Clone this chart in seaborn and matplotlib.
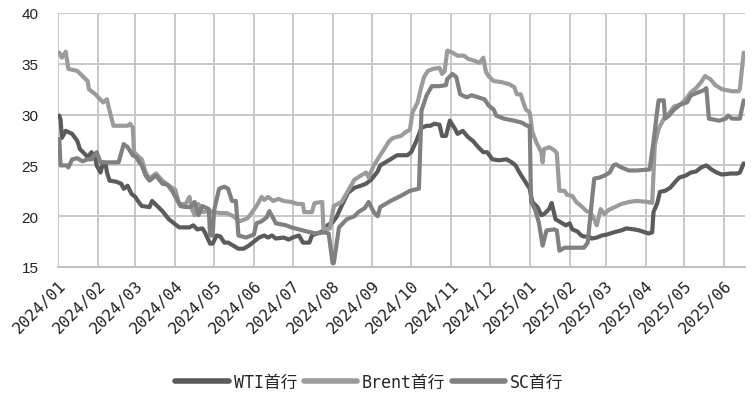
import pandas as pd
import seaborn as sns
import matplotlib
matplotlib.use("Agg")
import matplotlib.pyplot as plt
import matplotlib.dates as mdates

# values (breakpoints of each line)
wti_dates = ["2024-01-02", "2024-01-03", "2024-01-04", "2024-01-07", "2024-01-12", "2024-01-16",
             "2024-01-18", "2024-01-22", "2024-01-24", "2024-01-27", "2024-01-30", "2024-01-31",
             "2024-02-03", "2024-02-05", "2024-02-07", "2024-02-08", "2024-02-10", "2024-02-15",
             "2024-02-19", "2024-02-21", "2024-02-24", "2024-02-27", "2024-03-01", "2024-03-03",
             "2024-03-06", "2024-03-12", "2024-03-14", "2024-03-18", "2024-03-22", "2024-03-27",
             "2024-04-04", "2024-04-12", "2024-04-15", "2024-04-18", "2024-04-22", "2024-04-24",
             "2024-04-28", "2024-04-30", "2024-05-03", "2024-05-06", "2024-05-09", "2024-05-12",
             "2024-05-16", "2024-05-20", "2024-05-24", "2024-05-28", "2024-06-01", "2024-06-05",
             "2024-06-09", "2024-06-12", "2024-06-15", "2024-06-18", "2024-06-24", "2024-06-28",
             "2024-07-01", "2024-07-06", "2024-07-09", "2024-07-14", "2024-07-16", "2024-07-20",
             "2024-07-24", "2024-07-28", "2024-08-01", "2024-08-04", "2024-08-08", "2024-08-13",
             "2024-08-18", "2024-08-23", "2024-08-27", "2024-08-31", "2024-09-05", "2024-09-07",
             "2024-09-15", "2024-09-20", "2024-09-28", "2024-10-01", "2024-10-05", "2024-10-09",
             "2024-10-13", "2024-10-16", "2024-10-19", "2024-10-23", "2024-10-25", "2024-10-28",
             "2024-10-31", "2024-11-04", "2024-11-06", "2024-11-10", "2024-11-14", "2024-11-18",
             "2024-11-22", "2024-11-26", "2024-11-29", "2024-12-03", "2024-12-08", "2024-12-14",
             "2024-12-18", "2024-12-21", "2024-12-24", "2024-12-28", "2025-01-01", "2025-01-03",
             "2025-01-07", "2025-01-10", "2025-01-12", "2025-01-16", "2025-01-18", "2025-01-21",
             "2025-01-25", "2025-01-29", "2025-02-01", "2025-02-03", "2025-02-07", "2025-02-10",
             "2025-02-12", "2025-02-16", "2025-02-18", "2025-02-22", "2025-02-26", "2025-03-02",
             "2025-03-07", "2025-03-13", "2025-03-17", "2025-03-23", "2025-03-27", "2025-04-03",
             "2025-04-06", "2025-04-07", "2025-04-10", "2025-04-12", "2025-04-16", "2025-04-20",
             "2025-04-24", "2025-04-27", "2025-05-02", "2025-05-06", "2025-05-10", "2025-05-14",
             "2025-05-18", "2025-05-22", "2025-05-26", "2025-05-30", "2025-06-06", "2025-06-11",
             "2025-06-13", "2025-06-16"]
wti_vals = [29.9, 29.5, 27.7, 28.4, 28.1, 27.4,
            26.6, 26.1, 25.8, 26.3, 25.6, 25.0,
            24.3, 25.3, 25.1, 24.3, 23.5, 23.4,
            23.2, 22.7, 23.0, 22.2, 21.9, 21.5,
            21.0, 20.9, 21.5, 21.0, 20.5, 19.7,
            18.9, 18.9, 19.1, 18.7, 18.8, 18.4,
            17.3, 17.3, 18.1, 18.0, 17.4, 17.4,
            17.1, 16.8, 16.8, 17.1, 17.5, 17.9,
            18.1, 17.9, 18.1, 17.8, 17.9, 17.7,
            17.9, 18.1, 17.4, 17.4, 18.1, 18.3,
            18.5, 19.1, 19.4, 19.9, 21.0, 22.3,
            22.8, 23.0, 23.2, 23.6, 24.4, 25.0,
            25.6, 26.0, 26.0, 26.3, 27.4, 28.7,
            28.9, 28.9, 29.1, 29.0, 27.9, 27.9,
            29.4, 28.6, 28.1, 28.4, 27.8, 27.4,
            26.8, 26.3, 26.3, 25.6, 25.5, 25.6,
            25.3, 25.0, 24.3, 23.5, 22.7, 21.4,
            20.9, 20.1, 20.2, 20.7, 21.3, 19.7,
            19.4, 19.1, 19.3, 18.7, 18.5, 18.1,
            18.0, 18.0, 17.8, 17.9, 18.1, 18.2,
            18.4, 18.6, 18.8, 18.7, 18.6, 18.3,
            18.4, 20.4, 21.3, 22.4, 22.5, 22.8,
            23.4, 23.8, 24.0, 24.3, 24.4, 24.8,
            25.0, 24.6, 24.3, 24.1, 24.2, 24.2,
            24.3, 25.2]

brent_dates = ["2024-01-02", "2024-01-04", "2024-01-07", "2024-01-09", "2024-01-16", "2024-01-20",
               "2024-01-24", "2024-01-25", "2024-01-30", "2024-02-05", "2024-02-08", "2024-02-09",
               "2024-02-13", "2024-02-24", "2024-02-26", "2024-02-28", "2024-02-29", "2024-03-04",
               "2024-03-06", "2024-03-09", "2024-03-12", "2024-03-17", "2024-03-22", "2024-03-27",
               "2024-04-01", "2024-04-04", "2024-04-09", "2024-04-12", "2024-04-14", "2024-04-16",
               "2024-04-19", "2024-04-22", "2024-04-27", "2024-05-01", "2024-05-06", "2024-05-11",
               "2024-05-16", "2024-05-21", "2024-05-27", "2024-05-29", "2024-06-03", "2024-06-07",
               "2024-06-09", "2024-06-12", "2024-06-16", "2024-06-20", "2024-06-24", "2024-06-30",
               "2024-07-05", "2024-07-09", "2024-07-10", "2024-07-16", "2024-07-18", "2024-07-24",
               "2024-07-25", "2024-07-30", "2024-08-02", "2024-08-08", "2024-08-13", "2024-08-18",
               "2024-08-23", "2024-08-27", "2024-08-29", "2024-09-02", "2024-09-06", "2024-09-10",
               "2024-09-14", "2024-09-17", "2024-09-23", "2024-09-27", "2024-09-30", "2024-10-02",
               "2024-10-06", "2024-10-09", "2024-10-11", "2024-10-14", "2024-10-18", "2024-10-23",
               "2024-10-25", "2024-10-27", "2024-10-29", "2024-11-02", "2024-11-06", "2024-11-11",
               "2024-11-14", "2024-11-19", "2024-11-23", "2024-11-26", "2024-11-28", "2024-11-30",
               "2024-12-04", "2024-12-10", "2024-12-16", "2024-12-20", "2024-12-22", "2024-12-25",
               "2024-12-27", "2024-12-29", "2025-01-01", "2025-01-03", "2025-01-06", "2025-01-10",
               "2025-01-11", "2025-01-12", "2025-01-16", "2025-01-20", "2025-01-22", "2025-01-24",
               "2025-01-28", "2025-01-30", "2025-02-03", "2025-02-06", "2025-02-10", "2025-02-14",
               "2025-02-17", "2025-02-20", "2025-02-22", "2025-02-25", "2025-02-28", "2025-03-03",
               "2025-03-08", "2025-03-13", "2025-03-19", "2025-03-25", "2025-04-03", "2025-04-06",
               "2025-04-07", "2025-04-08", "2025-04-11", "2025-04-15", "2025-04-19", "2025-04-23",
               "2025-04-28", "2025-05-02", "2025-05-06", "2025-05-10", "2025-05-14", "2025-05-17",
               "2025-05-21", "2025-05-25", "2025-05-30", "2025-06-07", "2025-06-12", "2025-06-13",
               "2025-06-16"]
brent_vals = [36.1, 35.6, 36.2, 34.5, 34.3, 33.8,
              33.3, 32.5, 32.0, 31.2, 31.5, 30.9,
              28.9, 28.9, 29.1, 28.7, 26.3, 25.8,
              25.6, 24.3, 23.7, 24.2, 23.5, 23.0,
              22.6, 21.2, 21.2, 21.9, 20.7, 20.1,
              21.2, 20.4, 20.5, 20.4, 20.3, 20.3,
              20.0, 19.5, 19.8, 20.1, 21.0, 21.9,
              21.6, 21.9, 21.5, 21.7, 21.5, 21.4,
              21.2, 21.2, 20.4, 20.4, 21.3, 21.4,
              18.7, 18.8, 21.0, 21.4, 22.5, 23.6,
              24.0, 24.3, 23.8, 25.0, 25.8, 26.6,
              27.4, 27.7, 27.9, 28.3, 28.5, 30.2,
              31.2, 32.8, 33.7, 34.3, 34.5, 34.6,
              34.0, 34.3, 36.3, 36.1, 35.8, 35.8,
              35.5, 35.3, 35.1, 35.6, 34.2, 33.8,
              33.3, 33.2, 33.0, 32.7, 32.0, 32.0,
              31.2, 30.5, 30.2, 28.3, 27.3, 26.3,
              25.3, 26.6, 26.8, 26.5, 26.2, 22.5,
              22.5, 22.1, 22.0, 21.4, 21.0, 20.5,
              20.4, 19.7, 19.1, 20.7, 20.2, 20.6,
              20.9, 21.2, 21.4, 21.5, 21.4, 21.3,
              24.2, 27.0, 28.6, 29.6, 30.1, 30.8,
              31.0, 31.5, 32.2, 32.6, 33.2, 33.8,
              33.5, 32.9, 32.5, 32.3, 32.3, 32.5,
              36.1]

sc_dates = ["2024-01-02", "2024-01-03", "2024-01-08", "2024-01-09", "2024-01-12", "2024-01-16",
            "2024-01-20", "2024-01-24", "2024-01-27", "2024-01-31", "2024-02-03", "2024-02-08",
            "2024-02-13", "2024-02-17", "2024-02-21", "2024-02-24", "2024-02-28", "2024-03-02",
            "2024-03-04", "2024-03-06", "2024-03-09", "2024-03-12", "2024-03-17", "2024-03-22",
            "2024-03-26", "2024-03-30", "2024-04-02", "2024-04-05", "2024-04-09", "2024-04-13",
            "2024-04-16", "2024-04-19", "2024-04-22", "2024-04-27", "2024-04-28", "2024-04-30",
            "2024-05-01", "2024-05-05", "2024-05-09", "2024-05-12", "2024-05-15", "2024-05-18",
            "2024-05-20", "2024-05-26", "2024-05-30", "2024-06-01", "2024-06-03", "2024-06-07",
            "2024-06-11", "2024-06-13", "2024-06-16", "2024-06-18", "2024-06-26", "2024-06-30",
            "2024-07-06", "2024-07-12", "2024-07-19", "2024-07-26", "2024-07-29", "2024-08-01",
            "2024-08-02", "2024-08-06", "2024-08-12", "2024-08-18", "2024-08-21", "2024-08-26",
            "2024-08-29", "2024-09-02", "2024-09-05", "2024-09-07", "2024-09-15", "2024-09-23",
            "2024-09-30", "2024-10-07", "2024-10-09", "2024-10-13", "2024-10-17", "2024-10-23",
            "2024-10-28", "2024-10-29", "2024-11-02", "2024-11-05", "2024-11-08", "2024-11-13",
            "2024-11-17", "2024-11-22", "2024-11-27", "2024-11-30", "2024-12-04", "2024-12-06",
            "2024-12-12", "2024-12-20", "2024-12-26", "2024-12-30", "2025-01-01", "2025-01-02",
            "2025-01-05", "2025-01-08", "2025-01-11", "2025-01-14", "2025-01-20", "2025-01-22",
            "2025-01-24", "2025-01-28", "2025-02-12", "2025-02-15", "2025-02-17", "2025-02-20",
            "2025-02-24", "2025-02-28", "2025-03-04", "2025-03-07", "2025-03-09", "2025-03-13",
            "2025-03-19", "2025-03-25", "2025-04-04", "2025-04-07", "2025-04-10", "2025-04-11",
            "2025-04-15", "2025-04-16", "2025-04-19", "2025-04-23", "2025-04-28", "2025-05-03",
            "2025-05-06", "2025-05-12", "2025-05-16", "2025-05-18", "2025-05-20", "2025-05-28",
            "2025-06-02", "2025-06-04", "2025-06-07", "2025-06-13", "2025-06-16"]
sc_vals = [27.6, 25.0, 25.0, 24.8, 25.6, 25.7,
           25.4, 25.6, 25.6, 26.3, 25.3, 25.3,
           25.3, 25.3, 27.1, 26.8, 26.0, 25.8,
           25.3, 25.0, 24.0, 23.5, 24.0, 23.2,
           23.1, 22.4, 21.7, 21.0, 20.9, 20.9,
           21.4, 20.1, 21.0, 20.7, 18.1, 18.1,
           20.5, 22.7, 22.9, 22.7, 21.5, 21.5,
           18.1, 17.9, 18.1, 18.2, 19.3, 19.5,
           19.9, 20.5, 19.8, 19.3, 19.1, 18.9,
           18.7, 18.5, 18.3, 18.4, 18.3, 15.4,
           15.4, 18.9, 19.7, 20.0, 20.4, 20.8,
           21.4, 20.4, 20.0, 20.9, 21.5, 22.0,
           22.5, 22.7, 30.4, 31.9, 32.8, 32.8,
           32.9, 33.5, 34.0, 33.7, 32.0, 31.7,
           31.9, 31.7, 31.5, 30.9, 30.5, 29.9,
           29.6, 29.4, 29.2, 28.9, 28.9, 21.4,
           20.7, 19.4, 17.1, 18.6, 18.7, 18.6,
           16.6, 16.9, 16.9, 17.4, 20.0, 23.7,
           23.8, 24.0, 24.3, 25.0, 25.1, 24.8,
           24.5, 24.5, 24.6, 27.3, 30.5, 31.4,
           31.4, 29.6, 29.9, 30.5, 31.0, 31.2,
           31.9, 32.2, 32.4, 32.6, 29.6, 29.4,
           29.6, 29.9, 29.6, 29.6, 31.4]

series_names = ["WTI首行", "Brent首行", "SC首行"]
series_colors = ["#5b5b5b", "#9b9b9b", "#808080"]

frames = []
for name, d, v in zip(series_names, [wti_dates, brent_dates, sc_dates], [wti_vals, brent_vals, sc_vals]):
    frames.append(pd.DataFrame({"date": pd.to_datetime(d), "value": v, "series": name}))
df = pd.concat(frames, ignore_index=True)

sns.set_style("whitegrid")
plt.rcParams["font.family"] = ["Liberation Sans", "Noto Sans CJK SC"]
mono = ["DejaVu Sans Mono", "Noto Sans CJK SC"]

fig = plt.figure(figsize=(7.54, 4.02), dpi=100)
ax = fig.add_axes([58 / 754, 1 - 268 / 402, (745 - 58) / 754, (268 - 14) / 402])

sns.lineplot(data=df, x="date", y="value", hue="series", hue_order=series_names,
             palette=series_colors, linewidth=3, estimator=None, ax=ax, legend=False)

ax.set_xlim(pd.Timestamp("2024-01-01"), pd.Timestamp("2025-06-17"))
ax.set_ylim(15, 40)
ax.set_yticks([15, 20, 25, 30, 35, 40])
ax.xaxis.set_major_locator(mdates.MonthLocator())
ax.xaxis.set_major_formatter(mdates.DateFormatter("%Y/%m"))

ax.grid(True, color="#c8c8c8", linewidth=1.4)
for side in ["left", "right", "top"]:
    ax.spines[side].set_visible(False)
ax.spines["bottom"].set_color("#c0c0c0")
ax.spines["bottom"].set_linewidth(1.4)

ax.tick_params(axis="x", length=5, width=1.4, color="#c0c0c0", pad=2)
ax.tick_params(axis="y", length=0, pad=14, labelsize=11, labelcolor="#222222")
for lab in ax.get_xticklabels():
    lab.set_rotation(45)
    lab.set_ha("right")
    lab.set_rotation_mode("anchor")
    lab.set_family(mono)
    lab.set_fontsize(11.5)
    lab.set_color("#222222")

ax.set_xlabel("")
ax.set_ylabel("")

handles = [plt.Line2D([], [], color=c, linewidth=4) for c in series_colors]
fig.legend(handles, series_names, loc="center", bbox_to_anchor=(0.49, 0.047), ncol=3,
           frameon=False, handlelength=3.2, handletextpad=0.3, columnspacing=0.4,
           prop={"family": mono, "size": 12})

fig.savefig("out.png", dpi=100)
